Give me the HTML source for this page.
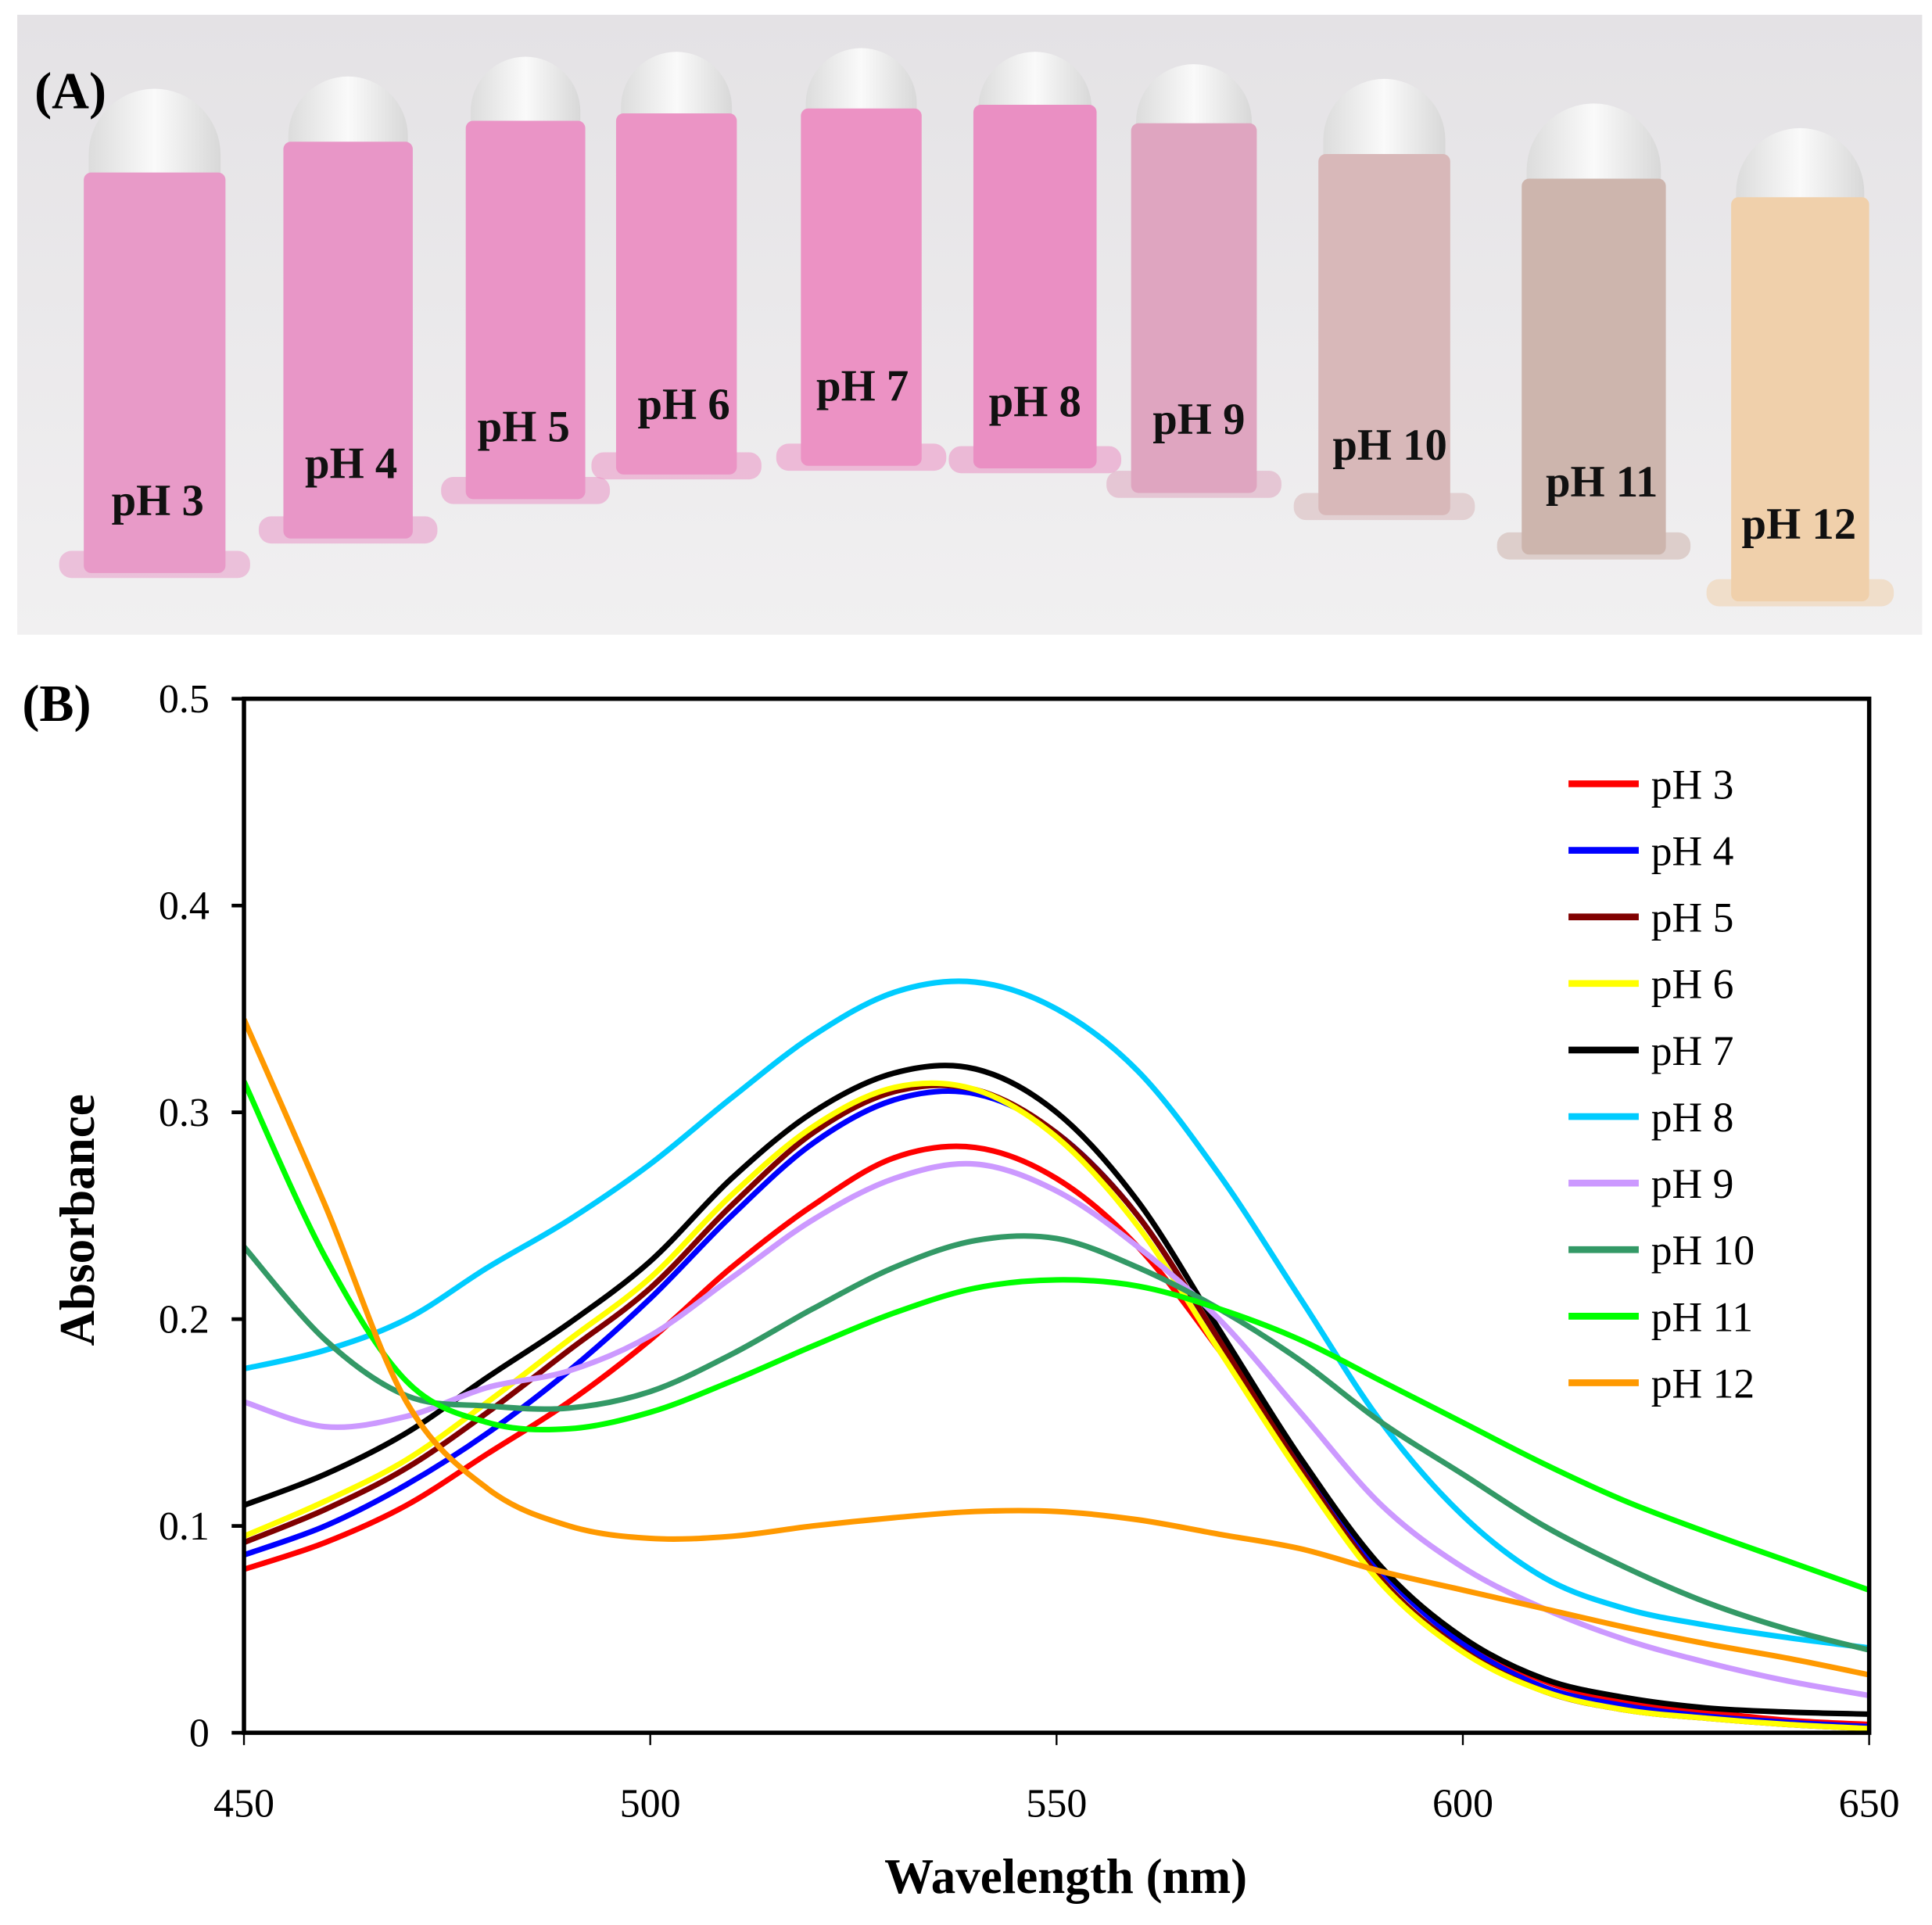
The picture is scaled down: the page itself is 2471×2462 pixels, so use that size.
<!DOCTYPE html>
<html><head><meta charset="utf-8"><style>
html,body{margin:0;padding:0;background:#fff;}
svg{display:block;font-family:"Liberation Serif",serif;}
</style></head><body>
<svg id="fig" width="2471" height="2462" viewBox="0 0 1568 1562" preserveAspectRatio="none" xmlns="http://www.w3.org/2000/svg">
<defs>
<linearGradient id="bg" x1="0" y1="0" x2="0" y2="1"><stop offset="0" stop-color="#e4e2e5"/><stop offset="1" stop-color="#f1f0f1"/></linearGradient>
<linearGradient id="cap" x1="0" y1="0" x2="1" y2="0"><stop offset="0" stop-color="#dcdcdc"/><stop offset="0.5" stop-color="#fafafa"/><stop offset="1" stop-color="#d8d8d8"/></linearGradient>
</defs>
<g id="photo">
<rect x="14" y="12" width="1546" height="503" fill="url(#bg)"/>
</g>
<text x="28" y="88" font-size="42" font-weight="bold">(A)</text>
<text x="18" y="585" font-size="42" font-weight="bold">(B)</text>
<g id="chart"></g>
</svg>
<script>
const tubeLabels=["pH 3","pH 4","pH 5","pH 6","pH 7","pH 8","pH 9","pH 10","pH 11","pH 12"];
const tubeColors=["#e89ac8","#e896c7","#ea94c6","#eb94c5","#ec92c4","#ea8fc3","#dfa5c0","#d8b8b9","#cdb5ad","#f0d0ab"];
const tubeGeom=[[68,183,68,140,465,128,418],[230,335,58,115,437,285,388],[378,475,42,98,405,425,358],[500,598,38,92,385,555,340],[650,748,35,88,378,700,325],[790,890,38,85,380,840,338],[918,1020,48,100,400,973,352],[1070,1177,60,125,418,1128,373],[1235,1352,80,145,450,1300,403],[1405,1517,100,160,488,1460,437]];
const NS="http://www.w3.org/2000/svg";
function mk(tag,attrs,parent){const e=document.createElementNS(NS,tag);for(const k in attrs)e.setAttribute(k,attrs[k]);parent.appendChild(e);return e;}
const photo=document.getElementById('photo');
tubeGeom.forEach((g,i)=>{
  const [x0,x1,dt,lt,b,lx,ly]=g;const w=x1-x0;
  const base=mk('rect',{x:x0-20,y:b-18,width:w+40,height:22,rx:10,fill:tubeColors[i],opacity:0.55},photo);
  
  
  const capEl=mk('path',{d:`M${x0+4},${lt+10} L${x0+4},${dt+w/2} A${w/2-4},${w/2-4} 0 0 1 ${x1-4},${dt+w/2} L${x1-4},${lt+10} Z`,fill:'url(#cap)'},photo);
  
  
  const liq=mk('rect',{x:x0,y:lt,width:w,height:b-lt,rx:6,fill:tubeColors[i]},photo);
  
  
  const t=mk('text',{x:lx,y:ly,'font-size':36,'font-weight':'bold','text-anchor':'middle',fill:'#111'},photo);
  t.textContent=tubeLabels[i];
  
  
});

const wavelengths=[450,460,470,480,490,500,510,520,530,540,550,560,570,580,590,600,610,620,630,640,650];
const seriesNames=["pH 3","pH 4","pH 5","pH 6","pH 7","pH 8","pH 9","pH 10","pH 11","pH 12"];
const seriesColors=["#ff0000","#0000ff","#800000","#ffff00","#000000","#00ccff","#cc99ff","#339966","#00ff00","#ff9900"];
const pH3=[0.079,0.092,0.11,0.135,0.16,0.19,0.225,0.255,0.278,0.283,0.268,0.235,0.185,0.128,0.078,0.045,0.025,0.015,0.01,0.006,0.004];
const pH4=[0.086,0.1,0.12,0.145,0.175,0.21,0.25,0.285,0.306,0.309,0.29,0.25,0.19,0.13,0.078,0.043,0.022,0.013,0.008,0.005,0.003];
const pH5=[0.092,0.108,0.128,0.155,0.185,0.215,0.255,0.29,0.31,0.311,0.29,0.25,0.19,0.128,0.074,0.04,0.02,0.011,0.007,0.004,0.002];
const pH6=[0.095,0.112,0.132,0.16,0.19,0.22,0.26,0.293,0.312,0.311,0.288,0.245,0.185,0.125,0.072,0.039,0.02,0.011,0.007,0.004,0.002];
const pH7=[0.11,0.125,0.145,0.172,0.198,0.228,0.268,0.3,0.319,0.321,0.3,0.257,0.195,0.133,0.08,0.046,0.026,0.017,0.012,0.01,0.009];
const pH8=[0.176,0.185,0.2,0.225,0.248,0.275,0.307,0.337,0.358,0.363,0.35,0.32,0.27,0.21,0.15,0.105,0.075,0.06,0.052,0.046,0.041];
const pH9=[0.16,0.148,0.153,0.167,0.175,0.192,0.22,0.248,0.268,0.275,0.262,0.235,0.2,0.155,0.11,0.08,0.06,0.045,0.034,0.025,0.018];
const pH10=[0.235,0.19,0.163,0.158,0.157,0.165,0.183,0.205,0.225,0.238,0.239,0.225,0.205,0.18,0.15,0.125,0.1,0.08,0.063,0.05,0.04];
const pH11=[0.315,0.23,0.17,0.15,0.147,0.155,0.17,0.187,0.203,0.215,0.219,0.216,0.205,0.19,0.17,0.15,0.13,0.112,0.097,0.083,0.069];
const pH12=[0.345,0.255,0.16,0.118,0.1,0.094,0.095,0.1,0.104,0.107,0.107,0.103,0.096,0.089,0.078,0.069,0.06,0.051,0.043,0.036,0.028];
const seriesValues=[pH3,pH4,pH5,pH6,pH7,pH8,pH9,pH10,pH11,pH12];
const xTicks=[450,500,550,600,650];
const yTicks=[0,0.1,0.2,0.3,0.4,0.5];

const L=198,R=1517,T=567,B=1406;
const xS=v=>L+(v-450)/200*(R-L);
const yS=v=>B-(v/0.5)*(B-T);
const chart=document.getElementById('chart');

function smooth(pts){
  let d=`M${pts[0][0]},${pts[0][1]}`;
  for(let i=0;i<pts.length-1;i++){
    const p0=pts[Math.max(0,i-1)],p1=pts[i],p2=pts[i+1],p3=pts[Math.min(pts.length-1,i+2)];
    const c1=[p1[0]+(p2[0]-p0[0])/6,p1[1]+(p2[1]-p0[1])/6];
    const c2=[p2[0]-(p3[0]-p1[0])/6,p2[1]-(p3[1]-p1[1])/6];
    d+=` C${c1[0]},${c1[1]} ${c2[0]},${c2[1]} ${p2[0]},${p2[1]}`;
  }
  return d;
}
const clip=mk('clipPath',{id:'plotclip'},chart);
mk('rect',{x:L,y:T,width:R-L,height:B-T},clip);
const lines=mk('g',{'clip-path':'url(#plotclip)'},chart);


seriesValues.forEach((vals,i)=>{
  const pts=wavelengths.map((w,j)=>[xS(w),yS(vals[j])]);
  const p=mk('path',{d:smooth(pts),fill:'none',stroke:seriesColors[i],'stroke-width':4.5,'stroke-linejoin':'round'},lines);
  
  
});
const frame=mk('rect',{x:L,y:T,width:R-L,height:B-T,fill:'none',stroke:'#000','stroke-width':3.5},chart);


yTicks.forEach(v=>{
  const tk=mk('line',{x1:L-10,x2:L,y1:yS(v),y2:yS(v),stroke:'#000','stroke-width':3},chart);
  
  
  const t=mk('text',{x:L-28,y:yS(v)+11,'font-size':33,'text-anchor':'end'},chart);
  t.textContent=v===0?'0':String(v);
  
  
});
xTicks.forEach(v=>{
  const tk=mk('line',{x1:xS(v),x2:xS(v),y1:B,y2:B+10,stroke:'#000','stroke-width':1.5},chart);
  
  
  const t=mk('text',{x:xS(v),y:1474,'font-size':33,'text-anchor':'middle'},chart);
  t.textContent=String(v);
  
  
});
const xt=mk('text',{x:865,y:1536,'font-size':40,'font-weight':'bold','text-anchor':'middle'},chart);
xt.textContent='Wavelength (nm)';


const yt=mk('text',{x:0,y:0,'font-size':40,'font-weight':'bold','text-anchor':'middle',transform:'translate(76,990) rotate(-90)'},chart);
yt.textContent='Absorbance';


const leg=mk('g',{},chart);


seriesNames.forEach((n,i)=>{
  const y=636+i*54;
  const g=mk('g',{},leg);
  
  
  mk('line',{x1:1273,x2:1330,y1:y,y2:y,stroke:seriesColors[i],'stroke-width':5.5},g);
  const t=mk('text',{x:1340,y:y+12,'font-size':34},g);
  t.textContent=n;
});
</script>
</body></html>
